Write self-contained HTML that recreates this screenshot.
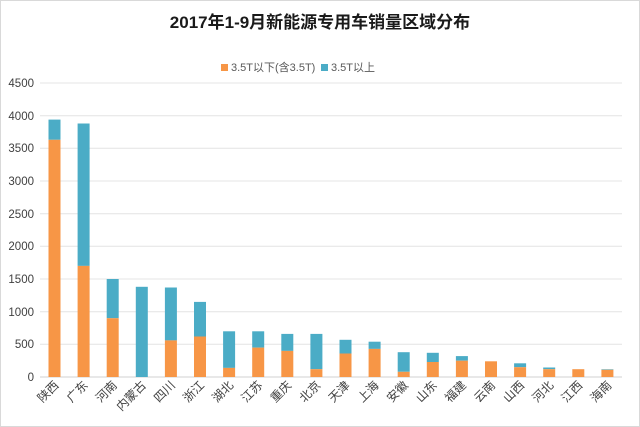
<!DOCTYPE html>
<html><head><meta charset="utf-8"><style>
body{margin:0;background:#fff;}
svg{display:block;font-family:"Liberation Sans","Noto Sans CJK SC",sans-serif;}
</style></head><body>
<svg width="640" height="427" viewBox="0 0 640 427">
<rect x="0.5" y="0.5" width="639" height="426" fill="#fff" stroke="#d9d9d9"/>
<text x="320" y="28" text-anchor="middle" font-size="17" font-weight="bold" fill="#1a1a1a">2017年1-9月新能源专用车销量区域分布</text>
<rect x="221" y="64" width="7" height="7" fill="#F79646"/>
<text x="231" y="71" font-size="11" fill="#595959">3.5T以下(含3.5T)</text>
<rect x="321" y="64" width="7" height="7" fill="#4BACC6"/>
<text x="331" y="71" font-size="11" fill="#595959">3.5T以上</text>
<g stroke="#e4e4e4" stroke-width="1">
<line x1="40" x2="622" y1="83" y2="83"/><line x1="40" x2="622" y1="115.7" y2="115.7"/>
<line x1="40" x2="622" y1="148.3" y2="148.3"/><line x1="40" x2="622" y1="181" y2="181"/>
<line x1="40" x2="622" y1="213.7" y2="213.7"/><line x1="40" x2="622" y1="246.3" y2="246.3"/>
<line x1="40" x2="622" y1="279" y2="279"/><line x1="40" x2="622" y1="311.7" y2="311.7"/>
<line x1="40" x2="622" y1="344.3" y2="344.3"/><line x1="40" x2="622" y1="377" y2="377" stroke="#d0d0d0"/>
</g>
<g font-size="11.5" fill="#404040" text-anchor="end">
<text x="34" y="87">4500</text><text x="34" y="120">4000</text><text x="34" y="152">3500</text>
<text x="34" y="185">3000</text><text x="34" y="218">2500</text><text x="34" y="250">2000</text>
<text x="34" y="283">1500</text><text x="34" y="316">1000</text><text x="34" y="348">500</text>
<text x="34" y="381">0</text>
</g>
<g fill="#4BACC6">
<rect x="48.5" y="119.6" width="12" height="20.2"/>
<rect x="77.6" y="123.5" width="12" height="142.4"/>
<rect x="106.7" y="279" width="12" height="39.2"/>
<rect x="135.8" y="286.8" width="12" height="90.2"/>
<rect x="164.9" y="287.5" width="12" height="52.9"/>
<rect x="194" y="301.9" width="12" height="34.6"/>
<rect x="223.1" y="331.3" width="12" height="36.6"/>
<rect x="252.2" y="331.3" width="12" height="16.3"/>
<rect x="281.3" y="333.9" width="12" height="17"/>
<rect x="310.4" y="333.9" width="12" height="35.3"/>
<rect x="339.5" y="339.8" width="12" height="13.7"/>
<rect x="368.6" y="341.7" width="12" height="7.2"/>
<rect x="397.7" y="352.2" width="12" height="19.6"/>
<rect x="426.8" y="352.8" width="12" height="9.2"/>
<rect x="455.9" y="356.1" width="12" height="4.6"/>
<rect x="514.1" y="363.3" width="12" height="3.9"/>
<rect x="543.2" y="367.5" width="12" height="1.7"/>
<rect x="601.4" y="369.2" width="12" height="0.6"/>
</g>
<g fill="#F79646">
<rect x="48.5" y="139.8" width="12" height="237.2"/>
<rect x="77.6" y="265.9" width="12" height="111.1"/>
<rect x="106.7" y="318.2" width="12" height="58.8"/>
<rect x="164.9" y="340.4" width="12" height="36.6"/>
<rect x="194" y="336.5" width="12" height="40.5"/>
<rect x="223.1" y="367.9" width="12" height="9.1"/>
<rect x="252.2" y="347.6" width="12" height="29.4"/>
<rect x="281.3" y="350.9" width="12" height="26.1"/>
<rect x="310.4" y="369.2" width="12" height="7.8"/>
<rect x="339.5" y="353.5" width="12" height="23.5"/>
<rect x="368.6" y="348.9" width="12" height="28.1"/>
<rect x="397.7" y="371.8" width="12" height="5.2"/>
<rect x="426.8" y="362" width="12" height="15"/>
<rect x="455.9" y="360.7" width="12" height="16.3"/>
<rect x="485" y="361.3" width="12" height="15.7"/>
<rect x="514.1" y="367.2" width="12" height="9.8"/>
<rect x="543.2" y="369.2" width="12" height="7.8"/>
<rect x="572.3" y="369.2" width="12" height="7.8"/>
<rect x="601.4" y="369.8" width="12" height="7.2"/>
</g>
<g font-size="12" fill="#404040" text-anchor="end">
<text transform="translate(59.5,386) rotate(-45)">陕西</text>
<text transform="translate(88.6,386) rotate(-45)">广东</text>
<text transform="translate(117.7,386) rotate(-45)">河南</text>
<text transform="translate(146.8,386) rotate(-45)">内蒙古</text>
<text transform="translate(175.9,386) rotate(-45)">四川</text>
<text transform="translate(205,386) rotate(-45)">浙江</text>
<text transform="translate(234.1,386) rotate(-45)">湖北</text>
<text transform="translate(263.2,386) rotate(-45)">江苏</text>
<text transform="translate(292.3,386) rotate(-45)">重庆</text>
<text transform="translate(321.4,386) rotate(-45)">北京</text>
<text transform="translate(350.5,386) rotate(-45)">天津</text>
<text transform="translate(379.6,386) rotate(-45)">上海</text>
<text transform="translate(408.7,386) rotate(-45)">安徽</text>
<text transform="translate(437.8,386) rotate(-45)">山东</text>
<text transform="translate(466.9,386) rotate(-45)">福建</text>
<text transform="translate(496,386) rotate(-45)">云南</text>
<text transform="translate(525.1,386) rotate(-45)">山西</text>
<text transform="translate(554.2,386) rotate(-45)">河北</text>
<text transform="translate(583.3,386) rotate(-45)">江西</text>
<text transform="translate(612.4,386) rotate(-45)">海南</text>
</g>
</svg>
</body></html>
